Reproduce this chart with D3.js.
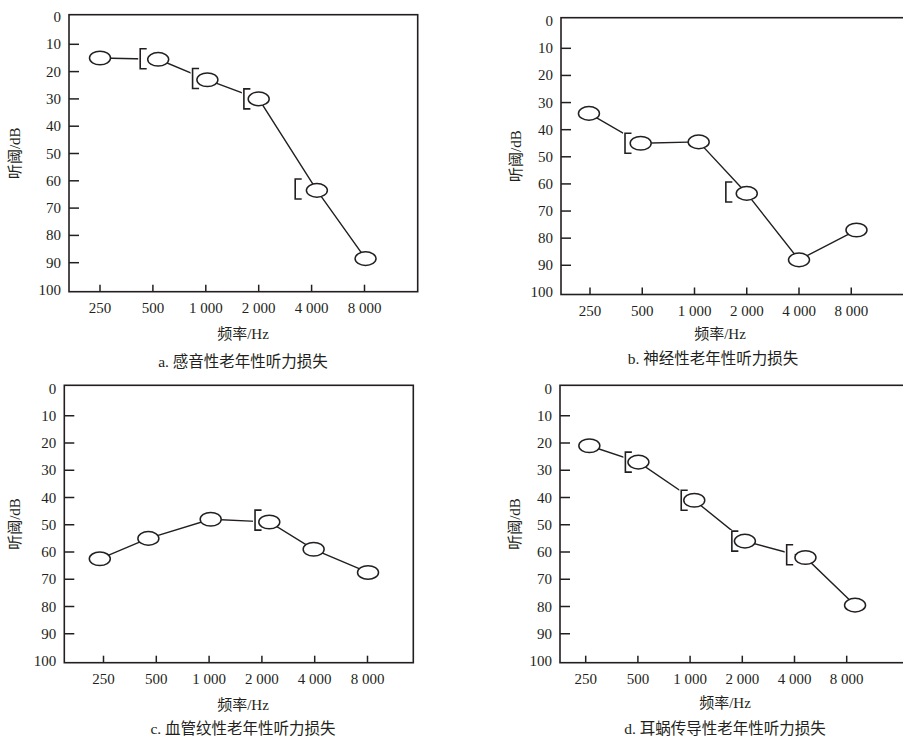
<!DOCTYPE html>
<html><head><meta charset="utf-8">
<script src="https://cdn.jsdelivr.net/npm/d3@7"></script>
<style>body{margin:0;background:#fff;} svg{display:block;}</style>
</head><body>
<svg id="chart" width="903" height="736"></svg>
<script>
// ---------- data ----------
const freqLabels = ["250", "500", "1 000", "2 000", "4 000", "8 000"];
const dbTicks = [0, 10, 20, 30, 40, 50, 60, 70, 80, 90, 100];
const yTitle = "听阈/dB";
const xTitle = "频率/Hz";

// positions are in octave steps from 250 Hz (0 = 250, 1 = 500, ... 5 = 8000)
const aAirPos = [0, 1.1, 2.03, 3.0, 4.1, 5.02];
const aAirDb = [15, 15.5, 23, 30, 63.5, 88.5];
const aBonePos = [null, 0.76, 1.75, 2.72, 3.69, null];
const aBoneDb = [null, 15.3, 22.5, 30, 63, null];

const bAirPos = [-0.02, 0.97, 2.08, 3.0, 4.0, 5.1];
const bAirDb = [34, 45, 44.5, 63.5, 88, 77];
const bBonePos = [null, 0.67, null, 2.6, null, null];
const bBoneDb = [null, 45, null, 63, null, null];

const cAirPos = [-0.07, 0.85, 2.03, 3.14, 3.98, 5.01];
const cAirDb = [62.5, 55, 48, 49, 59, 67.5];
const cBonePos = [null, null, null, 2.87, null, null];
const cBoneDb = [null, null, null, 48.3, null, null];

const dAirPos = [0.07, 1.01, 2.08, 3.05, 4.21, 5.16];
const dAirDb = [21, 27, 41, 56, 62, 79.5];
const dBonePos = [null, 0.76, 1.83, 2.8, 3.85, null];
const dBoneDb = [null, 27, 41, 56, 61, null];

const captions = ["a. 感音性老年性听力损失", "b. 神经性老年性听力损失", "c. 血管纹性老年性听力损失", "d. 耳蜗传导性老年性听力损失"];

// ---------- layout ----------
const layouts = [
  {left: 69, top: 14.7, right: 417.7, bottom: 291.7, y0: 17, y100: 290, x0: 100, step: 52.9, ylX: 15, xlX: 243, xlY: 334.3, capX: 243, capY: 361.5},
  {left: 561, top: 17.7, right: 912, bottom: 294.5, y0: 21.2, y100: 292.4, x0: 590, step: 52.25, ylX: 516, xlX: 720, xlY: 334.3, capX: 713, capY: 358.5},
  {left: 64.3, top: 385.3, right: 413.3, bottom: 662.7, y0: 388.5, y100: 661, x0: 103.5, step: 52.8, ylX: 15, xlX: 243, xlY: 705, capX: 243, capY: 728.3},
  {left: 560, top: 385.3, right: 912, bottom: 662.7, y0: 388.5, y100: 661, x0: 585.7, step: 52.2, ylX: 515, xlX: 725, xlY: 703.3, capX: 725, capY: 728.3}
];
const panelData = [
  {airPos: aAirPos, airDb: aAirDb, bonePos: aBonePos, boneDb: aBoneDb},
  {airPos: bAirPos, airDb: bAirDb, bonePos: bBonePos, boneDb: bBoneDb},
  {airPos: cAirPos, airDb: cAirDb, bonePos: cBonePos, boneDb: cBoneDb},
  {airPos: dAirPos, airDb: dAirDb, bonePos: dBonePos, boneDb: dBoneDb}
];

const ink = "#231f20";
const numFont = "'Liberation Serif', 'Times New Roman', serif";
const cjkFont = "'Liberation Serif', 'Noto Sans CJK SC', serif";
const svg = d3.select("#chart");

panelData.forEach((pd, i) => {
  const L = layouts[i];
  const g = svg.append("g");
  const x = d3.scaleLinear().domain([0, 5]).range([L.x0, L.x0 + 5 * L.step]);
  const y = d3.scaleLinear().domain([0, 100]).range([L.y0, L.y100]);

  // frame
  g.append("rect").attr("x", L.left).attr("y", L.top)
    .attr("width", L.right - L.left).attr("height", L.bottom - L.top)
    .attr("fill", "none").attr("stroke", ink).attr("stroke-width", 1.6);

  // y ticks (inside) and labels
  g.selectAll(".yt").data(dbTicks.filter(d => d > 0 && d < 100)).join("line")
    .attr("x1", L.left).attr("x2", L.left + 10)
    .attr("y1", d => y(d)).attr("y2", d => y(d))
    .attr("stroke", ink).attr("stroke-width", 1.5);
  g.selectAll(".yl").data(dbTicks).join("text")
    .attr("x", L.left - 8).attr("y", d => y(d))
    .attr("text-anchor", "end").attr("dominant-baseline", "central")
    .attr("font-family", numFont).attr("font-size", 15).attr("fill", ink)
    .text(d => d);

  // x ticks (inside, pointing up) and labels
  g.selectAll(".xt").data(freqLabels).join("line")
    .attr("x1", (d, k) => x(k)).attr("x2", (d, k) => x(k))
    .attr("y1", L.bottom).attr("y2", L.bottom - 7)
    .attr("stroke", ink).attr("stroke-width", 1.5);
  g.selectAll(".xl").data(freqLabels).join("text")
    .attr("x", (d, k) => x(k)).attr("y", L.bottom + 16)
    .attr("text-anchor", "middle").attr("dominant-baseline", "central")
    .attr("font-family", numFont).attr("font-size", 15).attr("fill", ink)
    .text(d => d);

  // titles
  g.append("text").attr("transform", `translate(${L.ylX},${(L.top + L.bottom) / 2}) rotate(-90)`)
    .attr("text-anchor", "middle").attr("dominant-baseline", "central")
    .attr("font-family", cjkFont).attr("font-size", 15).attr("fill", ink).text(yTitle);
  g.append("text").attr("x", L.xlX).attr("y", L.xlY)
    .attr("text-anchor", "middle").attr("dominant-baseline", "central")
    .attr("font-family", cjkFont).attr("font-size", 15).attr("fill", ink).text(xTitle);
  g.append("text").attr("x", L.capX).attr("y", L.capY)
    .attr("text-anchor", "middle").attr("dominant-baseline", "central")
    .attr("font-family", cjkFont).attr("font-size", 15.5).attr("fill", ink).text(captions[i]);

  // air-conduction line
  const pts = pd.airPos.map((p, k) => [x(p), y(pd.airDb[k])]);
  g.append("path").attr("d", d3.line()(pts))
    .attr("fill", "none").attr("stroke", ink).attr("stroke-width", 1.4);

  // bone-conduction brackets (with white backing that hides the line beneath)
  const bones = pd.bonePos.map((p, k) => ({p, v: pd.boneDb[k]})).filter(d => d.p !== null);
  g.selectAll(".bw").data(bones).join("rect")
    .attr("x", d => x(d.p) - 2).attr("y", d => y(d.v) - 11)
    .attr("width", 10).attr("height", 22).attr("fill", "#fff");
  g.selectAll(".bb").data(bones).join("path")
    .attr("d", d => { const bx = x(d.p), cy = y(d.v); return `M${bx + 6.5},${cy - 10}H${bx}V${cy + 10}H${bx + 6.5}`; })
    .attr("fill", "none").attr("stroke", ink).attr("stroke-width", 1.6);

  // air-conduction ellipses
  g.selectAll(".ac").data(pts).join("ellipse")
    .attr("cx", d => d[0]).attr("cy", d => d[1]).attr("rx", 10.5).attr("ry", 6.8)
    .attr("fill", "#fff").attr("stroke", ink).attr("stroke-width", 1.5);
});
</script>
</body></html>
